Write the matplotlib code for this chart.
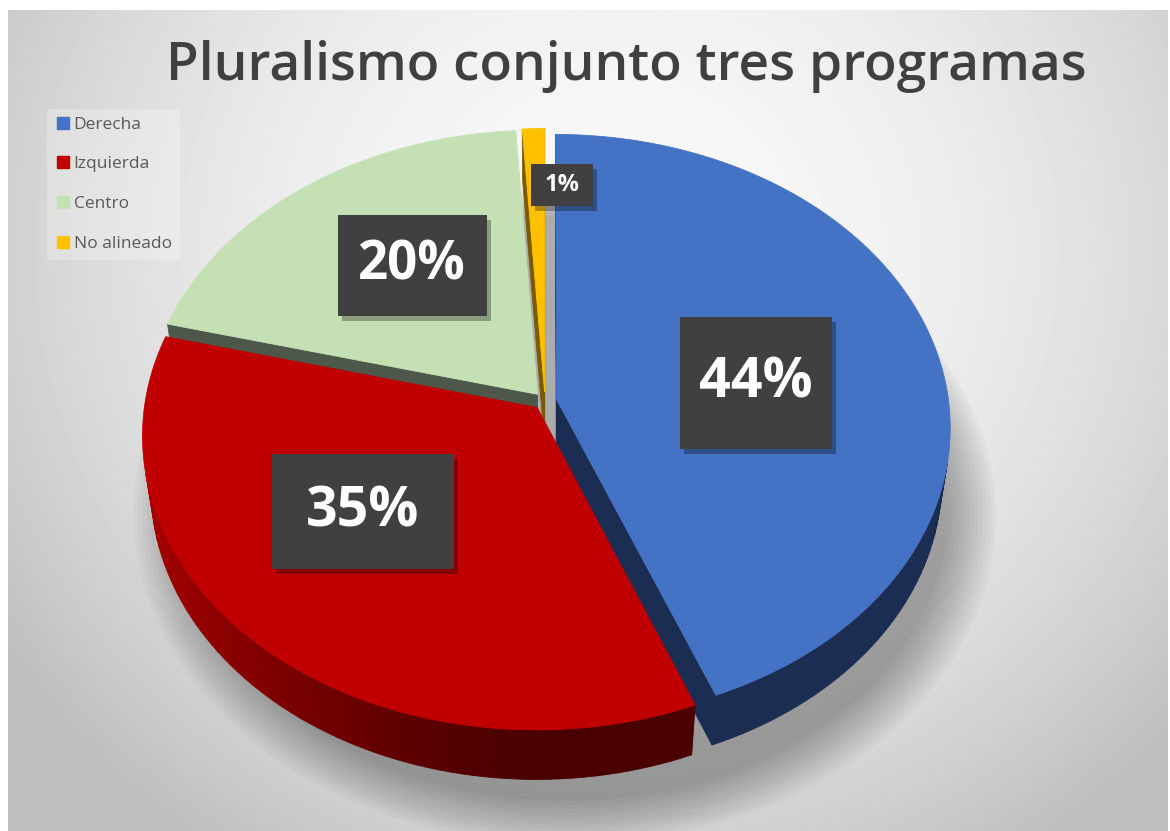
import numpy as np
import matplotlib.pyplot as plt
from matplotlib.patches import Polygon, Rectangle
from matplotlib.lines import Line2D
from matplotlib.colors import to_rgb

# ---- data -------------------------------------------------------------
categories = ["Derecha", "Izquierda", "Centro", "No alineado"]
shares = [44, 35, 20, 1]
pct_labels = ["44%", "35%", "20%", "1%"]

top_colors = ["#4472C4", "#C00000", "#C5E0B4", "#FFC000"]
side_dark = ["#1b2d52", "#4a0000", "#4d584b", "#7a5b00"]
side_light = ["#1f3560", "#a80000", "#66745f", "#a07800"]

# label anchors on the pie plane (radius fraction, angle clockwise from 12 o'clock)
label_r = [0.545, 0.58, 0.605, 0.80]
label_t = [83.5, 230.6, 324.1, 3.4]
label_box = [(152, 132), (182, 115), (149, 101), (62, 42)]
label_size = [40, 40, 38, 17]

# ---- 3d pie geometry ---------------------------------------------------
ELEV = np.radians(47.8)
DIST = 7.07
SCALE = 392
CX, CY = 545, 401
THICK = 0.2
EXPLODE = 0.03
CAM = np.array([0.0, -DIST * np.cos(ELEV), DIST * np.sin(ELEV)])


def project(X, Y, Z):
    X, Y, Z = np.asarray(X, float), np.asarray(Y, float), np.asarray(Z, float)
    depth = DIST + Y * np.cos(ELEV) - Z * np.sin(ELEV)
    sx = X * DIST / depth
    sy = (Y * np.sin(ELEV) + Z * np.cos(ELEV)) * DIST / depth
    return CX + SCALE * sx, CY - SCALE * sy


def poly(ax, X, Y, Z, color, z=2, alpha=1.0, lw=0.6):
    px, py = project(X, Y, Z)
    ax.add_patch(Polygon(np.column_stack([px, py]), closed=True, facecolor=color,
                         edgecolor=color if alpha == 1.0 else "none", lw=lw,
                         alpha=alpha, zorder=z))


def facing(normal, point):
    return np.dot(normal, CAM - np.asarray(point)) > 0


def mix(c1, c2, t):
    a, b = np.array(to_rgb(c1)), np.array(to_rgb(c2))
    return tuple(a * (1 - t) + b * t)


fig = plt.figure(figsize=(11.7, 8.31), dpi=100)
ax = fig.add_axes([0, 0, 1, 1])
ax.set_xlim(0, 1170)
ax.set_ylim(831, 0)
ax.axis("off")

# background: soft radial gradient
gx, gy = np.meshgrid(np.linspace(8, 1168, 300), np.linspace(10, 831, 220))
rr = ((gx - 620) / 640) ** 2 + ((gy - 250) / 620) ** 2
bg = 0.975 - 0.17 * np.clip(rr, 0, 1.35)
ax.imshow(bg, cmap="gray", vmin=0, vmax=1, extent=(8, 1168, 831, 10),
          aspect="auto", zorder=0, interpolation="bilinear")

# soft shadow under the pie, pushed to the lower right
tt = np.radians(np.linspace(0, 360, 200))
for k in range(12):
    rad = 0.99 + 0.011 * k
    px, py = project(rad * np.sin(tt) + 0.05, rad * np.cos(tt) - 0.08,
                     np.full_like(tt, -THICK - 0.02))
    ax.add_patch(Polygon(np.column_stack([px, py]), closed=True, facecolor="black",
                         edgecolor="none", alpha=0.028, zorder=1))

# slices
total = float(sum(shares))
bounds = np.concatenate([[0], np.cumsum(shares)]) / total * 360
slices = []
for i in range(len(shares)):
    t0, t1 = bounds[i], bounds[i + 1]
    mid = np.radians((t0 + t1) / 2)
    ox, oy = EXPLODE * np.sin(mid), EXPLODE * np.cos(mid)
    cy_ = oy + 0.4 * np.cos(mid)
    slices.append((DIST + cy_ * np.cos(ELEV), i, t0, t1, ox, oy))

for depth, i, t0, t1, ox, oy in sorted(slices, reverse=True):
    z = 2 + (10 - depth)
    a = np.radians(np.linspace(t0, t1, max(3, int((t1 - t0) / 1.5))))
    # radial cut faces
    for ang, sgn in ((np.radians(t0), -1), (np.radians(t1), 1)):
        nrm = np.array([sgn * np.cos(ang), -sgn * np.sin(ang), 0.0])
        pt = np.array([ox + 0.5 * np.sin(ang), oy + 0.5 * np.cos(ang), -THICK / 2])
        if facing(nrm, pt):
            X = [ox, ox + np.sin(ang), ox + np.sin(ang), ox]
            Y = [oy, oy + np.cos(ang), oy + np.cos(ang), oy]
            poly(ax, X, Y, [0, 0, -THICK, -THICK], side_dark[i], z)
    # outer curved side
    for a0, a1 in zip(a[:-1], a[1:]):
        am = (a0 + a1) / 2
        nrm = np.array([np.sin(am), np.cos(am), 0.0])
        pt = np.array([ox + np.sin(am), oy + np.cos(am), -THICK / 2])
        if facing(nrm, pt):
            shade = mix(side_dark[i], side_light[i], max(0.0, -np.sin(am)) ** 1.3)
            X = [ox + np.sin(a0), ox + np.sin(a1), ox + np.sin(a1), ox + np.sin(a0)]
            Y = [oy + np.cos(a0), oy + np.cos(a1), oy + np.cos(a1), oy + np.cos(a0)]
            poly(ax, X, Y, [0, 0, -THICK, -THICK], shade, z)
    # top face
    X = np.concatenate([[ox], ox + np.sin(a)])
    Y = np.concatenate([[oy], oy + np.cos(a)])
    poly(ax, X, Y, np.zeros_like(X), top_colors[i], z + 0.1)

# data labels
for lab, r, t, (bw, bh), fs in zip(pct_labels, label_r, label_t, label_box, label_size):
    lx, ly = project(r * np.sin(np.radians(t)), r * np.cos(np.radians(t)), 0)
    ax.add_patch(Rectangle((lx - bw / 2 + 4, ly - bh / 2 + 5), bw, bh,
                           facecolor="black", alpha=0.3, edgecolor="none", zorder=20))
    ax.add_patch(Rectangle((lx - bw / 2, ly - bh / 2), bw, bh,
                           facecolor="#404040", edgecolor="none", zorder=21))
    ax.text(lx, ly, lab, color="white", fontsize=fs, fontweight="bold",
            family="Open Sans", ha="center", va="center", zorder=22)

# title
ax.text(626, 80, "Pluralismo conjunto tres programas", fontsize=38.3,
        fontweight="semibold", family="Open Sans", color="#404040",
        ha="center", va="baseline", zorder=30)

# legend
handles = [Line2D([], [], marker="s", ls="", color=c, markersize=8) for c in top_colors]
leg = ax.legend(handles, categories, loc="upper left", bbox_to_anchor=(38 / 1170, 1 - 100 / 831),
                prop={"family": "Open Sans", "size": 12.5}, labelcolor="#595959",
                frameon=True, facecolor="white", framealpha=0.25, edgecolor="none",
                fancybox=False, handletextpad=0.1, labelspacing=1.36, borderpad=0.45,
                handlelength=1.0)
leg.set_zorder(30)

fig.savefig("out.png", dpi=100, facecolor="white")
